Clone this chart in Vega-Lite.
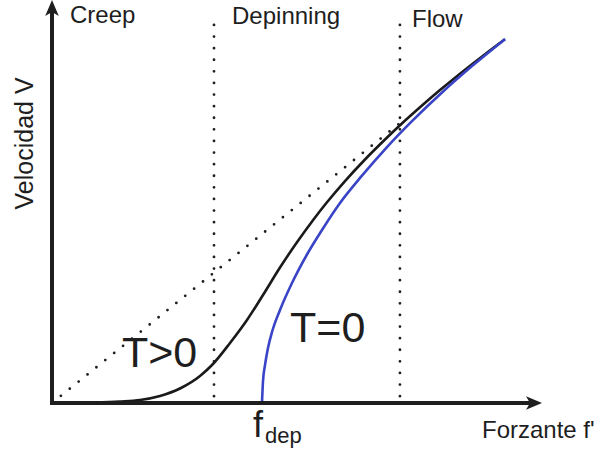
{
  "$schema": "https://vega.github.io/schema/vega-lite/v6.json",
  "width": 488,
  "height": 403,
  "autosize": "none",
  "padding": {"left": 52, "top": 0, "right": 60, "bottom": 53},
  "background": "white",
  "config": {
    "view": {"stroke": null},
    "text": {"font": "Liberation Sans", "color": "#1e1e1e"}
  },
  "datasets": {
    "creep": [
      {"f": 0, "V": 0}, {"f": 0.779, "V": 0.012}, {"f": 1.393, "V": 0.037}, {"f": 1.803, "V": 0.074},
      {"f": 2.213, "V": 0.174}, {"f": 2.623, "V": 0.36}, {"f": 3.033, "V": 0.67}, {"f": 3.299, "V": 0.968},
      {"f": 3.648, "V": 1.489}, {"f": 3.996, "V": 2.06}, {"f": 4.324, "V": 2.68}, {"f": 4.672, "V": 3.362},
      {"f": 5.02, "V": 3.988}, {"f": 5.348, "V": 4.536}, {"f": 5.635, "V": 4.98}, {"f": 6.004, "V": 5.506},
      {"f": 6.414, "V": 6.042}, {"f": 6.824, "V": 6.538}, {"f": 7.131, "V": 6.891}, {"f": 7.541, "V": 7.337},
      {"f": 7.951, "V": 7.764}, {"f": 8.361, "V": 8.171}, {"f": 8.873, "V": 8.655}, {"f": 9.283, "V": 9.027}
    ],
    "zeroT": [
      {"f": 4.303, "V": 0}, {"f": 4.324, "V": 0.546}, {"f": 4.365, "V": 0.943}, {"f": 4.426, "V": 1.365},
      {"f": 4.508, "V": 1.762}, {"f": 4.672, "V": 2.308}, {"f": 4.918, "V": 2.978}, {"f": 5.225, "V": 3.685},
      {"f": 5.533, "V": 4.293}, {"f": 5.902, "V": 4.963}, {"f": 6.352, "V": 5.64}, {"f": 6.865, "V": 6.35},
      {"f": 7.377, "V": 6.993}, {"f": 7.992, "V": 7.705}, {"f": 8.607, "V": 8.36}, {"f": 9.283, "V": 9.03}
    ],
    "bounds": [
      {"f": 3.32, "V": 0.17, "V2": 9.45},
      {"f": 7.13, "V": 0.17, "V2": 9.45}
    ],
    "linear": [
      {"f": 0, "V": 0, "f2": 7.131, "V2": 6.948}
    ],
    "axesLines": [
      {"f": 0, "V": 0, "f2": 9.8, "V2": 0},
      {"f": 0, "V": 0, "f2": 0, "V2": 9.8}
    ],
    "regions": [
      {"f": 0.369, "V": 9.43, "label": "Creep"},
      {"f": 3.689, "V": 9.4, "label": "Depinning"},
      {"f": 7.377, "V": 9.33, "label": "Flow"}
    ],
    "temps": [
      {"f": 1.434, "V": 0.893, "label": "T>0"},
      {"f": 4.877, "V": 1.514, "label": "T=0"}
    ]
  },
  "layer": [
    {
      "data": {"name": "bounds"},
      "mark": {"type": "rule", "color": "#1e1e1e", "strokeWidth": 2.8, "strokeCap": "round", "strokeDash": [0, 11.6]},
      "encoding": {
        "x": {"field": "f", "type": "quantitative", "scale": {"domain": [0, 10], "nice": false}, "axis": null},
        "y": {"field": "V", "type": "quantitative", "scale": {"domain": [0, 10], "nice": false}, "axis": null},
        "y2": {"field": "V2"}
      }
    },
    {
      "data": {"name": "linear"},
      "mark": {"type": "rule", "color": "#1e1e1e", "strokeWidth": 2.8, "strokeCap": "round", "strokeDash": [0, 11.4]},
      "encoding": {
        "x": {"field": "f", "type": "quantitative", "scale": {"domain": [0, 10], "nice": false}, "axis": null},
        "y": {"field": "V", "type": "quantitative", "scale": {"domain": [0, 10], "nice": false}, "axis": null},
        "x2": {"field": "f2"},
        "y2": {"field": "V2"}
      }
    },
    {
      "data": {"name": "creep"},
      "mark": {"type": "line", "color": "#1a1a1a", "strokeWidth": 2.6, "interpolate": "monotone"},
      "encoding": {
        "x": {"field": "f", "type": "quantitative", "scale": {"domain": [0, 10], "nice": false}, "axis": null},
        "y": {"field": "V", "type": "quantitative", "scale": {"domain": [0, 10], "nice": false}, "axis": null}
      }
    },
    {
      "data": {"name": "zeroT"},
      "mark": {"type": "line", "color": "#3a44c6", "strokeWidth": 2.6, "interpolate": "monotone"},
      "encoding": {
        "x": {"field": "f", "type": "quantitative", "scale": {"domain": [0, 10], "nice": false}, "axis": null},
        "y": {"field": "V", "type": "quantitative", "scale": {"domain": [0, 10], "nice": false}, "axis": null}
      }
    },
    {
      "data": {"name": "axesLines"},
      "mark": {"type": "rule", "color": "#1e1e1e", "strokeWidth": 4, "strokeCap": "square"},
      "encoding": {
        "x": {"field": "f", "type": "quantitative", "scale": {"domain": [0, 10], "nice": false}, "axis": null},
        "y": {"field": "V", "type": "quantitative", "scale": {"domain": [0, 10], "nice": false}, "axis": null},
        "x2": {"field": "f2"},
        "y2": {"field": "V2"}
      }
    },
    {
      "data": {"values": [{"f": 9.877, "V": 0}]},
      "mark": {"type": "point", "filled": true, "opacity": 1, "color": "#1e1e1e", "size": 256, "shape": "M1,0 L-1,-0.85 L-0.5,0 L-1,0.85 Z"},
      "encoding": {
        "x": {"field": "f", "type": "quantitative", "scale": {"domain": [0, 10], "nice": false}, "axis": null},
        "y": {"field": "V", "type": "quantitative", "scale": {"domain": [0, 10], "nice": false}, "axis": null}
      }
    },
    {
      "data": {"values": [{"f": 0, "V": 9.8}]},
      "mark": {"type": "point", "filled": true, "opacity": 1, "color": "#1e1e1e", "size": 256, "shape": "M0,-1 L-0.85,1 L0,0.5 L0.85,1 Z"},
      "encoding": {
        "x": {"field": "f", "type": "quantitative", "scale": {"domain": [0, 10], "nice": false}, "axis": null},
        "y": {"field": "V", "type": "quantitative", "scale": {"domain": [0, 10], "nice": false}, "axis": null}
      }
    },
    {
      "data": {"name": "regions"},
      "mark": {"type": "text", "fontSize": 24, "align": "left", "baseline": "alphabetic"},
      "encoding": {
        "x": {"field": "f", "type": "quantitative", "scale": {"domain": [0, 10], "nice": false}, "axis": null},
        "y": {"field": "V", "type": "quantitative", "scale": {"domain": [0, 10], "nice": false}, "axis": null},
        "text": {"field": "label"}
      }
    },
    {
      "data": {"name": "temps"},
      "mark": {"type": "text", "fontSize": 43, "align": "left", "baseline": "alphabetic"},
      "encoding": {
        "x": {"field": "f", "type": "quantitative", "scale": {"domain": [0, 10], "nice": false}, "axis": null},
        "y": {"field": "V", "type": "quantitative", "scale": {"domain": [0, 10], "nice": false}, "axis": null},
        "text": {"field": "label"}
      }
    },
    {
      "data": {"values": [{"f": 4.119, "V": -0.844, "label": "f"}]},
      "mark": {"type": "text", "fontSize": 36, "align": "left", "baseline": "alphabetic"},
      "encoding": {
        "x": {"field": "f", "type": "quantitative", "scale": {"domain": [0, 10], "nice": false}, "axis": null},
        "y": {"field": "V", "type": "quantitative", "scale": {"domain": [0, 10], "nice": false}, "axis": null},
        "text": {"field": "label"}
      }
    },
    {
      "data": {"values": [{"f": 4.365, "V": -0.993, "label": "dep"}]},
      "mark": {"type": "text", "fontSize": 22, "align": "left", "baseline": "alphabetic"},
      "encoding": {
        "x": {"field": "f", "type": "quantitative", "scale": {"domain": [0, 10], "nice": false}, "axis": null},
        "y": {"field": "V", "type": "quantitative", "scale": {"domain": [0, 10], "nice": false}, "axis": null},
        "text": {"field": "label"}
      }
    },
    {
      "data": {"values": [{"f": 8.811, "V": -0.868, "label": "Forzante f'"}]},
      "mark": {"type": "text", "fontSize": 24, "align": "left", "baseline": "alphabetic"},
      "encoding": {
        "x": {"field": "f", "type": "quantitative", "scale": {"domain": [0, 10], "nice": false}, "axis": null},
        "y": {"field": "V", "type": "quantitative", "scale": {"domain": [0, 10], "nice": false}, "axis": null},
        "text": {"field": "label"}
      }
    },
    {
      "data": {"values": [{"f": -0.389, "V": 6.44, "label": "Velocidad V"}]},
      "mark": {"type": "text", "fontSize": 25, "angle": 270, "align": "center", "baseline": "alphabetic"},
      "encoding": {
        "x": {"field": "f", "type": "quantitative", "scale": {"domain": [0, 10], "nice": false}, "axis": null},
        "y": {"field": "V", "type": "quantitative", "scale": {"domain": [0, 10], "nice": false}, "axis": null},
        "text": {"field": "label"}
      }
    }
  ]
}
